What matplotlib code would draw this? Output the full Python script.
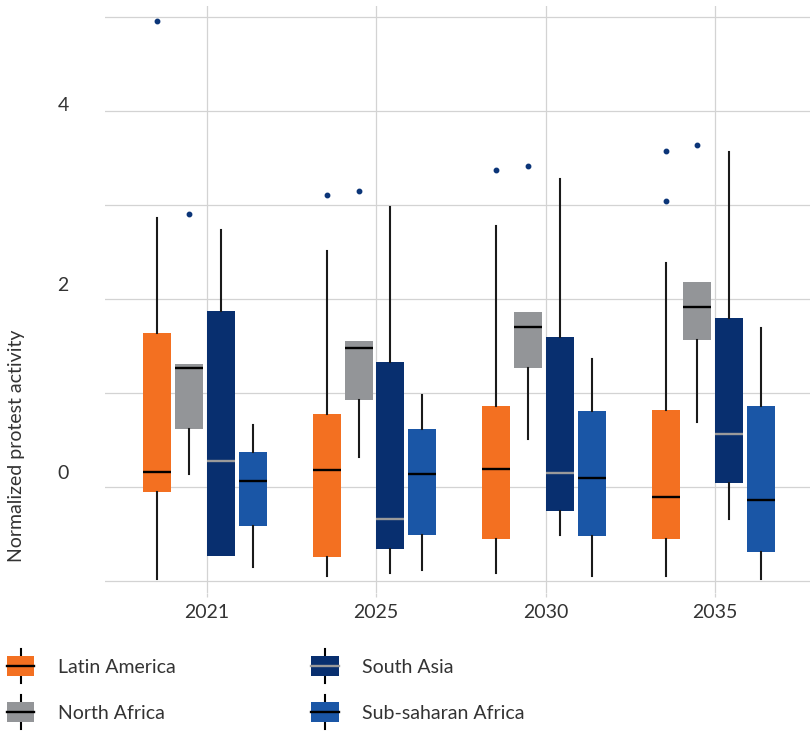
import numpy as np
import matplotlib
matplotlib.use("Agg")
import matplotlib.pyplot as plt
from matplotlib.patches import Rectangle
from matplotlib.lines import Line2D
from matplotlib.legend_handler import HandlerBase
from matplotlib.transforms import ScaledTranslation

plt.rcParams['font.family'] = ['Lato', 'DejaVu Sans']

# Data
years = ['2021', '2025', '2030', '2035']
regions = ['Latin America', 'North Africa', 'South Asia', 'Sub-saharan Africa']

latam_whislo = [-0.98, -0.95, -0.92, -0.95]
latam_q1 = [-0.05, -0.75, -0.55, -0.55]
latam_med = [0.16, 0.18, 0.19, -0.11]
latam_q3 = [1.64, 0.78, 0.86, 0.82]
latam_whishi = [2.86, 2.51, 2.78, 2.38]
latam_fliers = [[4.96], [3.11], [3.37], [3.57, 3.04]]

nafr_whislo = [0.14, 0.32, 0.51, 0.69]
nafr_q1 = [0.62, 0.93, 1.27, 1.56]
nafr_med = [1.27, 1.48, 1.70, 1.91]
nafr_q3 = [1.31, 1.55, 1.86, 2.18]
nafr_whishi = [1.31, 1.55, 1.86, 2.18]
nafr_fliers = [[2.90], [3.15], [3.42], [3.64]]

sasia_whislo = [-0.73, -0.91, -0.51, -0.34]
sasia_q1 = [-0.73, -0.66, -0.26, 0.04]
sasia_med = [0.28, -0.34, 0.15, 0.56]
sasia_q3 = [1.87, 1.33, 1.60, 1.80]
sasia_whishi = [2.73, 2.98, 3.28, 3.56]
sasia_fliers = [[], [], [], []]

ssa_whislo = [-0.85, -0.88, -0.95, -0.98]
ssa_q1 = [-0.42, -0.51, -0.52, -0.69]
ssa_med = [0.06, 0.14, 0.10, -0.14]
ssa_q3 = [0.37, 0.62, 0.81, 0.86]
ssa_whishi = [0.66, 0.98, 1.36, 1.69]
ssa_fliers = [[], [], [], []]

groups = [
    (latam_whislo, latam_q1, latam_med, latam_q3, latam_whishi, latam_fliers),
    (nafr_whislo, nafr_q1, nafr_med, nafr_q3, nafr_whishi, nafr_fliers),
    (sasia_whislo, sasia_q1, sasia_med, sasia_q3, sasia_whishi, sasia_fliers),
    (ssa_whislo, ssa_q1, ssa_med, ssa_q3, ssa_whishi, ssa_fliers),
]

face_colors = ['#F37021', '#939598', '#082F6F', '#1A56A6']
median_colors = ['#000000', '#000000', '#9A9A9A', '#000000']
flier_color = '#0B3578'
text_color = '#333333'
grid_color = '#D3D3D3'

fig = plt.figure(figsize=(8.10, 7.33), dpi=100)
ax = fig.add_axes([105 / 810, 1 - 593 / 733, 1 - 105 / 810, (593 - 6) / 733])

slot = 0.188
width = 0.165
base = np.arange(len(years))

for i, (wlo, q1, med, q3, whi, fl) in enumerate(groups):
    stats = []
    for j in range(len(years)):
        stats.append(dict(whislo=wlo[j], q1=q1[j], med=med[j], q3=q3[j],
                          whishi=whi[j], fliers=fl[j]))
    pos = base + (i - 1.5) * slot - 0.01
    ax.bxp(stats, positions=pos, widths=width, patch_artist=True,
           showcaps=False, manage_ticks=False,
           boxprops=dict(facecolor=face_colors[i], edgecolor='none', linewidth=0),
           medianprops=dict(color=median_colors[i], linewidth=1.7, solid_capstyle='butt'),
           whiskerprops=dict(color='#1A1A1A', linewidth=1.5),
           flierprops=dict(marker='o', markersize=3.2, markerfacecolor=flier_color,
                           markeredgecolor=flier_color, linestyle='none'))

ax.set_xlim(-0.6, 3.56)
ax.set_ylim(-1.128, 5.117)
ax.set_xticks(base)
ax.set_xticklabels(years)
ax.set_yticks([0, 2, 4])
ax.set_yticks([-1, 1, 3, 5], minor=True)
ax.grid(True, which='both', color=grid_color, linewidth=0.9)
ax.set_axisbelow(True)
for s in ax.spines.values():
    s.set_visible(False)

ax.tick_params(axis='x', length=3, color=grid_color, width=0.9, pad=5,
               labelsize=14, labelcolor=text_color)
ax.tick_params(axis='y', which='both', length=0, pad=26,
               labelsize=14, labelcolor=text_color)
# y tick labels sit a little above their gridlines in the reference
for lab, dy in zip(ax.get_yticklabels(), [15, 15, 7]):
    lab.set_transform(lab.get_transform() + ScaledTranslation(0, dy / 100, fig.dpi_scale_trans))

fig.text(16.5 / 810, 1 - 446 / 733, 'Normalized protest activity', rotation=90,
         ha='center', va='center', fontsize=14, color=text_color)


# Legend with box-shaped handles
class BoxKey:
    def __init__(self, face, med):
        self.face = face
        self.med = med


class BoxHandler(HandlerBase):
    def create_artists(self, legend, orig_handle, xdescent, ydescent,
                       width, height, fontsize, trans):
        x0, y0 = -xdescent, -ydescent
        cx = x0 + width / 2
        whisk = Line2D([cx, cx], [y0 - 0.35 * height, y0 + 1.35 * height],
                       color='#000000', linewidth=1.5, transform=trans)
        rect = Rectangle((x0, y0), width, height, facecolor=orig_handle.face,
                         edgecolor='none', transform=trans)
        med = Line2D([x0, x0 + width], [y0 + height / 2] * 2,
                     color=orig_handle.med, linewidth=1.7, transform=trans)
        return [whisk, rect, med]


keys = [BoxKey(face_colors[i], median_colors[i]) for i in range(len(regions))]
fig.legend(keys, regions, handler_map={BoxKey: BoxHandler()},
           loc='upper left', bbox_to_anchor=(7 / 810, 1 - 656 / 733),
           ncol=2, frameon=False, fontsize=14, labelcolor=text_color,
           handlelength=1.4, handleheight=1.2, handletextpad=1.2,
           columnspacing=7.0, labelspacing=1.35, borderpad=0, borderaxespad=0)

fig.savefig('out.png', dpi=100)
